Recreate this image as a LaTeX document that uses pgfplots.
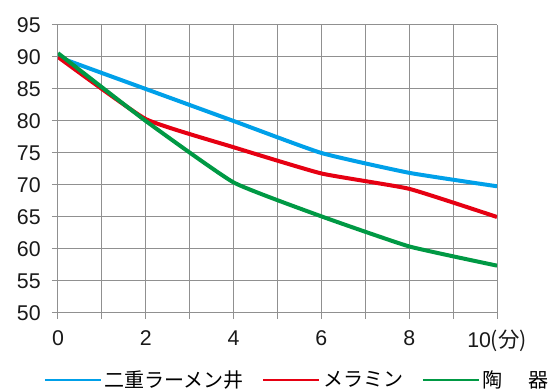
\documentclass[border=0pt]{standalone}
\usepackage{fontspec}
\setmainfont{Liberation Sans}
\newfontfamily\cjk{Noto Sans CJK JP}
\usepackage{pgfplots}
\pgfplotsset{compat=1.18}
\definecolor{cblue}{HTML}{00A0E9}
\definecolor{cred}{HTML}{E60012}
\definecolor{cgreen}{HTML}{009944}
\definecolor{gridgray}{HTML}{909090}

\begin{document}
\begin{tikzpicture}
\begin{axis}[
  scale only axis, width=329.25pt, height=216pt,
  xmin=0, xmax=10, ymin=50, ymax=95,
  xtick={0,...,10}, xticklabels={0,,2,,4,,6,,8,,{10\cjk(分)}},
  ytick={50,55,...,95},
  axis line style={draw=none},
  tick align=outside, xtick pos=bottom, ytick pos=left,
  major tick length=4.5pt,
  tick style={gridgray, line width=0.75pt},
  grid=major, grid style={gridgray, line width=0.75pt},
  /pgf/number format/assume math mode=true,
  ticklabel style={font=\fontsize{16}{19}\selectfont, text=black!90},
  xticklabel style={yshift=-5pt},
  yticklabel style={xshift=-5pt},
  legend columns=3,
  legend style={at={(0.5456,-0.232)}, anchor=center, draw=none, fill=none,
    font=\fontsize{15}{18}\selectfont\cjk,
    /tikz/every even column/.append style={column sep=12pt}},
  legend image code/.code={\draw[#1, line width=1.5pt] (0pt,0pt) -- (42pt,0pt);},
  every axis plot/.append style={line width=3pt, smooth, tension=0.25, mark=none},
]
\addplot[cblue] coordinates {(0,90) (2,85) (4,80) (6,75) (8,71.9) (10,69.8)};
\addplot[cred] coordinates {(0,90) (2,80.3) (4,75.9) (6,71.8) (8,69.4) (10,65)};
\addplot[cgreen] coordinates {(0,90.6) (2,80) (4,70.4) (6,65.1) (8,60.4) (10,57.4)};
\legend{二重ラーメン井, メラミン, 陶\hspace{1.3em}器}
\end{axis}
\pgfresetboundingbox
\useasboundingbox (-43.5pt,-58.5pt) rectangle (375pt,234.75pt);
\end{tikzpicture}
\end{document}
